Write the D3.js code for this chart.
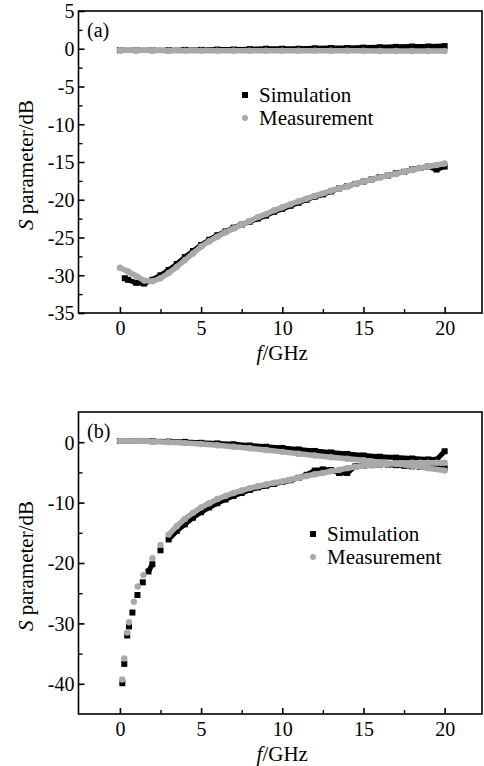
<!DOCTYPE html>
<html><head><meta charset="utf-8">
<script src="https://cdn.jsdelivr.net/npm/d3@7"></script>
<style>
body{margin:0;background:#fff;}
svg{display:block;}
</style>
</head><body>
<svg id="c" width="484" height="766"></svg>
<script>
// ---------------- DATA ----------------
// Panel (a)
const fA_s21Sim  = [0,1,2,3,4,5,6,7,8,9,10,11,12,13,14,15,16,17,18,19,20];
const vA_s21Sim  = [-0.2,-0.2,-0.2,-0.2,-0.15,-0.15,-0.1,-0.1,-0.05,0,0,0,0.05,0.1,0.1,0.15,0.2,0.25,0.3,0.3,0.35];
const fA_s21Meas = [0,1,2,3,4,5,6,7,8,9,10,11,12,13,14,15,16,17,18,19,20];
const vA_s21Meas = [-0.2,-0.2,-0.2,-0.25,-0.25,-0.25,-0.25,-0.25,-0.25,-0.25,-0.25,-0.25,-0.25,-0.25,-0.25,-0.25,-0.3,-0.3,-0.3,-0.3,-0.3];
const fA_s11Sim  = [0.3,0.5,1,1.5,2,2.5,3,3.5,4,4.5,5,5.5,6,6.5,7,7.5,8,8.5,9,9.5,10,10.5,11,11.5,12,12.5,13,13.5,14,14.5,15,15.5,16,16.5,17,17.5,18,18.5,19,19.5,20];
const vA_s11Sim  = [-30.4,-30.6,-31.0,-31.1,-30.6,-30.0,-29.3,-28.5,-27.6,-26.8,-26.0,-25.3,-24.7,-24.2,-23.7,-23.3,-22.9,-22.5,-22.1,-21.6,-21.2,-20.8,-20.4,-20.0,-19.6,-19.3,-18.9,-18.5,-18.2,-17.9,-17.6,-17.3,-17.0,-16.8,-16.5,-16.3,-16.0,-15.8,-15.6,-16.0,-15.6];
const fA_s11Meas = [0,0.5,1,1.5,2,2.5,3,3.5,4,4.5,5,5.5,6,6.5,7,7.5,8,8.5,9,9.5,10,10.5,11,11.5,12,12.5,13,13.5,14,14.5,15,15.5,16,16.5,17,17.5,18,18.5,19,19.5,20];
const vA_s11Meas = [-29.0,-29.5,-30.1,-30.7,-30.8,-30.4,-29.7,-28.9,-28.0,-27.1,-26.2,-25.5,-24.9,-24.3,-23.8,-23.3,-22.8,-22.3,-21.9,-21.4,-21.0,-20.6,-20.2,-19.85,-19.5,-19.15,-18.8,-18.5,-18.2,-17.9,-17.6,-17.3,-17.05,-16.8,-16.55,-16.3,-16.05,-15.8,-15.6,-15.4,-15.2];

// Panel (b)
const fB_s21Sim  = [0,1,2,3,4,5,6,7,8,9,10,11,12,13,14,15,16,17,18,19,19.5,20];
const vB_s21Sim  = [0.2,0.2,0.15,0.1,0.05,-0.1,-0.2,-0.35,-0.55,-0.75,-0.95,-1.2,-1.45,-1.7,-1.95,-2.2,-2.4,-2.55,-2.7,-2.85,-2.9,-1.5];
const fB_s21Meas = [0,1,2,3,4,5,6,7,8,9,10,11,12,13,14,15,16,17,18,19,20];
const vB_s21Meas = [0.2,0.2,0.1,0,-0.15,-0.3,-0.5,-0.75,-1.0,-1.3,-1.6,-1.9,-2.2,-2.5,-2.75,-3.0,-3.3,-3.6,-3.9,-4.3,-4.7];
const fB_s11Sim  = [0.15,0.27,0.45,0.56,0.77,1.08,1.41,1.76,2,2.5,3,3.5,4,4.5,5,5.5,6,6.5,7,7.5,8,8.5,9,9.5,10,10.5,11,11.5,12,12.5,13,13.5,14,14.5,15,15.5,16,16.5,17,17.5,18,18.5,19,19.5,20];
const vB_s11Sim  = [-39.9,-36.7,-32.0,-30.5,-28.2,-25.3,-23.2,-21.4,-20.2,-17.9,-16.1,-14.7,-13.6,-12.5,-11.6,-10.8,-10.1,-9.5,-8.9,-8.4,-7.9,-7.5,-7.2,-6.9,-6.6,-6.3,-5.9,-5.4,-4.7,-4.5,-4.6,-5.1,-5.1,-4.0,-3.9,-3.8,-3.7,-3.7,-3.8,-3.9,-4.0,-4.1,-4.2,-4.3,-4.3];
const fB_s11Meas = [0.14,0.27,0.45,0.56,0.86,1.1,1.45,2,2.5,3,3.5,4,4.5,5,5.5,6,6.5,7,7.5,8,8.5,9,9.5,10,10.5,11,11.5,12,12.5,13,13.5,14,14.5,15,15.5,16,16.5,17,17.5,18,18.5,19,19.5,20];
const vB_s11Meas = [-39.3,-35.8,-31.5,-29.8,-26.4,-23.9,-22.0,-19.2,-17.0,-15.3,-13.9,-12.7,-11.7,-10.8,-10.1,-9.4,-8.9,-8.4,-8.0,-7.6,-7.3,-7.0,-6.7,-6.5,-6.2,-5.9,-5.6,-5.3,-5.1,-4.8,-4.6,-4.3,-4.1,-3.9,-3.8,-3.7,-3.6,-3.5,-3.5,-3.4,-3.4,-3.4,-3.4,-3.4];

// Ticks
const xTicks      = [0,5,10,15,20];
const xMinorTicks = [2.5,7.5,12.5,17.5];
const yTicksA      = [5,0,-5,-10,-15,-20,-25,-30,-35];
const yMinorTicksA = [2.5,-2.5,-7.5,-12.5,-17.5,-22.5,-27.5,-32.5];
const yTicksB      = [0,-10,-20,-30,-40];
const yMinorTicksB = [-5,-15,-25,-35];
const legendLabels = ["Simulation","Measurement"];
const panelLabels  = ["(a)","(b)"];

// ---------------- DRAW ----------------
const svg = d3.select("#c");
const SIM = "#000000", MEAS = "#a9a9a9";
const L = 78.5, R = 482;
const FONT = "Liberation Serif";

function zip(f, v){ return f.map((d,i)=>({f:d, v:v[i]})); }

function panel(cfg){
  const g = svg.append("g");
  const x = d3.scaleLinear().domain([-2.55, 22.3]).range([L, R]);
  const y = d3.scaleLinear().domain(cfg.yDomain).range([cfg.bottom, cfg.top]);

  const line = d3.line().x(d=>x(d.f)).y(d=>y(d.v));
  function series(data, color, shape, bandW){
    // continuous band only where markers overlap; steep sparse parts stay as discrete markers
    const segs = []; let cur = [data[0]];
    for(let i=1;i<data.length;i++){
      const a=data[i-1], b=data[i];
      const dy=Math.abs(y(b.v)-y(a.v));
      if(dy<9) cur.push(b); else { segs.push(cur); cur=[b]; }
    }
    segs.push(cur);
    g.append("g").selectAll("path").data(segs.filter(s=>s.length>1)).join("path")
      .attr("d",line).attr("fill","none")
      .attr("stroke",color).attr("stroke-width",bandW).attr("stroke-linejoin","round");
    if(shape==="sq"){
      g.append("g").selectAll("rect").data(data).join("rect")
        .attr("x",d=>x(d.f)-3).attr("y",d=>y(d.v)-3).attr("width",6).attr("height",6).attr("fill",color);
    } else {
      g.append("g").selectAll("circle").data(data).join("circle")
        .attr("cx",d=>x(d.f)).attr("cy",d=>y(d.v)).attr("r",3.2).attr("fill",color);
    }
  }
  cfg.series.forEach(s=>series(zip(s.f,s.v), s.sim?SIM:MEAS, s.sim?"sq":"ci", s.sim?5:5.5));

  // frame
  g.append("rect").attr("x",L).attr("y",cfg.top).attr("width",R-L).attr("height",cfg.bottom-cfg.top)
    .attr("fill","none").attr("stroke","#000").attr("stroke-width",1.6);

  // y axis (inward ticks)
  const ya = g.append("g").attr("transform",`translate(${L},0)`)
    .call(d3.axisRight(y).tickValues(cfg.yTicks).tickSize(6).tickFormat(d=>String(d)));
  ya.attr("font-family",null).attr("font-size",null);
  ya.select(".domain").remove();
  ya.selectAll(".tick line").attr("stroke","#000").attr("stroke-width",1.6);
  ya.selectAll(".tick text").attr("x",-4).attr("text-anchor","end").attr("dy","0.34em")
    .attr("font-family",FONT).attr("font-size",20).attr("fill","#000");
  const ym = g.append("g").attr("transform",`translate(${L},0)`)
    .call(d3.axisRight(y).tickValues(cfg.yMinor).tickSize(4).tickFormat(""));
  ym.select(".domain").remove();
  ym.selectAll(".tick line").attr("stroke","#000").attr("stroke-width",1.4);

  // x axis (inward ticks)
  const xa = g.append("g").attr("transform",`translate(0,${cfg.bottom})`)
    .call(d3.axisTop(x).tickValues(xTicks).tickSize(6));
  xa.attr("font-family",null).attr("font-size",null);
  xa.select(".domain").remove();
  xa.selectAll(".tick line").attr("stroke","#000").attr("stroke-width",1.6);
  xa.selectAll(".tick text").attr("y",22).attr("dy",0)
    .attr("font-family",FONT).attr("font-size",20).attr("fill","#000");
  const xm = g.append("g").attr("transform",`translate(0,${cfg.bottom})`)
    .call(d3.axisTop(x).tickValues(xMinorTicks).tickSize(4).tickFormat(""));
  xm.select(".domain").remove();
  xm.selectAll(".tick line").attr("stroke","#000").attr("stroke-width",1.4);

  // axis titles
  const xt = g.append("text").attr("x",x(10)).attr("y",cfg.bottom+47).attr("text-anchor","middle")
    .attr("font-family",FONT).attr("font-size",21);
  xt.append("tspan").attr("font-style","italic").text("f");
  xt.append("tspan").text("/GHz");
  const yc = (cfg.top+cfg.bottom)/2 + 3;
  const yt = g.append("text").attr("transform",`translate(33,${yc}) rotate(-90)`).attr("text-anchor","middle")
    .attr("font-family",FONT).attr("font-size",21);
  yt.append("tspan").attr("font-style","italic").text("S");
  yt.append("tspan").text(" parameter/dB");

  // panel label
  g.append("text").attr("x",87).attr("y",cfg.top+26).attr("font-family",FONT).attr("font-size",20).text(cfg.label);

  // legend
  const lg = g.append("g");
  lg.append("rect").attr("x",cfg.leg[0]-3).attr("y",cfg.leg[1]-3).attr("width",6).attr("height",6).attr("fill",SIM);
  lg.append("circle").attr("cx",cfg.leg[0]).attr("cy",cfg.leg[1]+23).attr("r",3).attr("fill",MEAS);
  lg.append("text").attr("x",cfg.leg[0]+14).attr("y",cfg.leg[1]+7).attr("font-family",FONT).attr("font-size",21).text(legendLabels[0]);
  lg.append("text").attr("x",cfg.leg[0]+14).attr("y",cfg.leg[1]+30).attr("font-family",FONT).attr("font-size",21).text(legendLabels[1]);
}

panel({
  top:11, bottom:313, yDomain:[-35,5], yTicks:yTicksA, yMinor:yMinorTicksA, label:panelLabels[0],
  leg:[245,95],
  series:[
    {f:fA_s21Sim, v:vA_s21Sim, sim:true},
    {f:fA_s11Sim, v:vA_s11Sim, sim:true},
    {f:fA_s21Meas, v:vA_s21Meas, sim:false},
    {f:fA_s11Meas, v:vA_s11Meas, sim:false}
  ]
});
panel({
  top:412, bottom:714, yDomain:[-45,5], yTicks:yTicksB, yMinor:yMinorTicksB, label:panelLabels[1],
  leg:[313,534],
  series:[
    {f:fB_s21Sim, v:vB_s21Sim, sim:true},
    {f:fB_s11Sim, v:vB_s11Sim, sim:true},
    {f:fB_s21Meas, v:vB_s21Meas, sim:false},
    {f:fB_s11Meas, v:vB_s11Meas, sim:false}
  ]
});
</script>
</body></html>
